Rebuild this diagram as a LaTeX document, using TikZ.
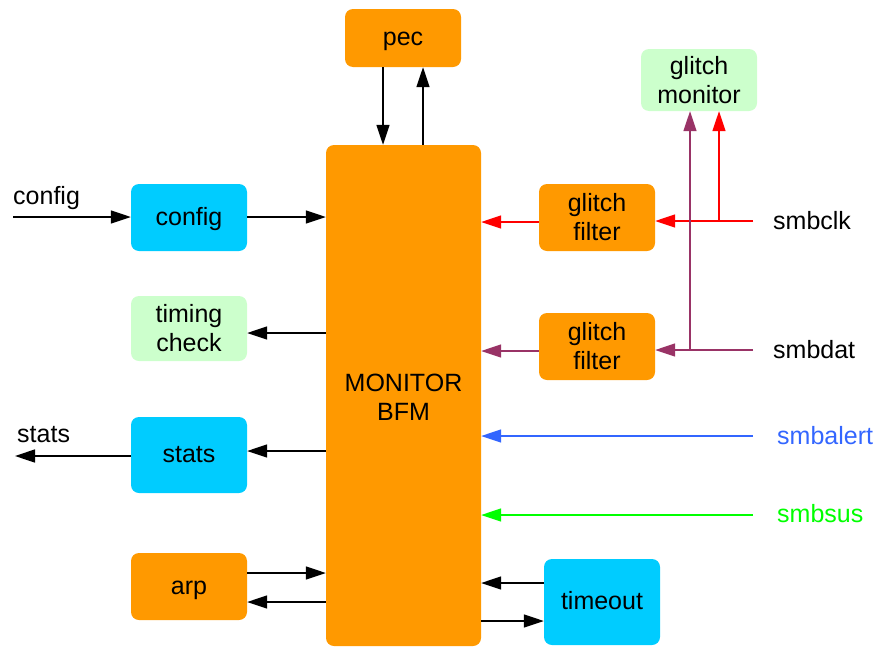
\documentclass[tikz,border=0pt]{standalone}
\usepackage{fontspec}
\setmainfont{Liberation Sans}
\usetikzlibrary{arrows.meta}
\definecolor{blkorange}{HTML}{FF9900}
\definecolor{blkcyan}{HTML}{00CCFF}
\definecolor{blkgreen}{HTML}{CCFFCC}
\definecolor{sigred}{HTML}{FF0000}
\definecolor{sigpurple}{HTML}{993366}
\definecolor{sigblue}{HTML}{3366FF}
\definecolor{siggreen}{HTML}{00FF00}
\tikzset{
  blk/.style={rounded corners=8pt, inner sep=0pt, align=center,
    font=\fontsize{25}{29}\selectfont},
  oneline/.style={text height=20pt, text depth=5pt},
  orangeblk/.style={blk, fill=blkorange},
  cyanblk/.style={blk, fill=blkcyan},
  greenblk/.style={blk, fill=blkgreen},
  sig/.style={line width=1.4pt, -{Triangle[length=20pt,width=13pt]}},
  lbl/.style={font=\fontsize{25}{29}\selectfont, inner sep=0pt}
}
\begin{document}
\begin{tikzpicture}[x=1pt,y=-1pt]
\useasboundingbox (0,0) rectangle (881,648);
% blocks
\node[orangeblk, minimum width=155pt, minimum height=501pt] (bfm) at (403.5,395.5) {};
\node[blk] (bfmtext) at (403.5,397.5) {MONITOR\\BFM};
\node[orangeblk, oneline, minimum width=116pt, minimum height=58pt] (pec) at (403,38) {pec};
\node[cyanblk, oneline, minimum width=116pt, minimum height=67pt] (cfg) at (189,217.5) {config};
\node[greenblk, minimum width=116pt, minimum height=65pt] (tim) at (189,328.5) {timing\\check};
\node[cyanblk, oneline, minimum width=116pt, minimum height=76pt] (sts) at (189,455) {stats};
\node[orangeblk, oneline, minimum width=116pt, minimum height=67pt] (arp) at (189,586.5) {arp};
\node[cyanblk, oneline, minimum width=116pt, minimum height=86pt] (tmo) at (602,602) {timeout};
\node[orangeblk, minimum width=116pt, minimum height=67pt] (gf1) at (597,217.5) {glitch\\filter};
\node[orangeblk, minimum width=116pt, minimum height=67pt] (gf2) at (597,346.5) {glitch\\filter};
\node[greenblk, minimum width=116pt, minimum height=62pt] (gm) at (699,80) {glitch\\monitor};

% external signal ends and labels
\coordinate (cfgin) at (13,217);
\coordinate (stsout) at (15,456);
\coordinate (clkin) at (753,221);
\coordinate (datin) at (753,350);
\coordinate (alertin) at (753,436);
\coordinate (susin) at (753,515);
\coordinate (clktap) at (719,221);
\coordinate (dattap) at (690,350);
\node[lbl, anchor=base west] (cfglbl) at (13,204) {config};
\node[lbl, anchor=base west] (stslbl) at (17,442) {stats};
\node[lbl, anchor=west] (clklbl) at (773,221) {smbclk};
\node[lbl, anchor=west] (datlbl) at (773,350) {smbdat};
\node[lbl, anchor=west, text=sigblue] (alertlbl) at (777,436) {smbalert};
\node[lbl, anchor=west, text=siggreen] (suslbl) at (777,514) {smbsus};

% black connectors
\draw[sig] (pec.south -| 383,0) -- (bfm.north -| 383,0);
\draw[sig] (bfm.north -| 423,0) -- (pec.south -| 423,0);
\draw[sig] (cfgin) -- (cfg.west |- cfgin);
\draw[sig] (cfg.east |- 0,217) -- (bfm.west |- 0,217);
\draw[sig] (bfm.west |- 0,333) -- (tim.east |- 0,333);
\draw[sig] (bfm.west |- 0,451) -- (sts.east |- 0,451);
\draw[sig] (sts.west |- stsout) -- (stsout);
\draw[sig] (arp.east |- 0,573) -- (bfm.west |- 0,573);
\draw[sig] (bfm.west |- 0,602) -- (arp.east |- 0,602);
\draw[sig] (tmo.west |- 0,583) -- (bfm.east |- 0,583);
\draw[sig] (bfm.east |- 0,621) -- (tmo.west |- 0,621);

% smbclk path (red)
\draw[sig, sigred] (clkin) -- (gf1.east |- clkin);
\draw[sig, sigred] (clktap) -- (clktap |- gm.south);
\draw[sig, sigred] (gf1.west |- 0,222) -- (bfm.east |- 0,222);

% smbdat path (purple)
\draw[sig, sigpurple] (datin) -- (gf2.east |- datin);
\draw[sig, sigpurple] (dattap) -- (dattap |- gm.south);
\draw[sig, sigpurple] (gf2.west |- 0,351) -- (bfm.east |- 0,351);

% smbalert and smbsus
\draw[sig, sigblue] (alertin) -- (bfm.east |- alertin);
\draw[sig, siggreen] (susin) -- (bfm.east |- susin);
\end{tikzpicture}
\end{document}
